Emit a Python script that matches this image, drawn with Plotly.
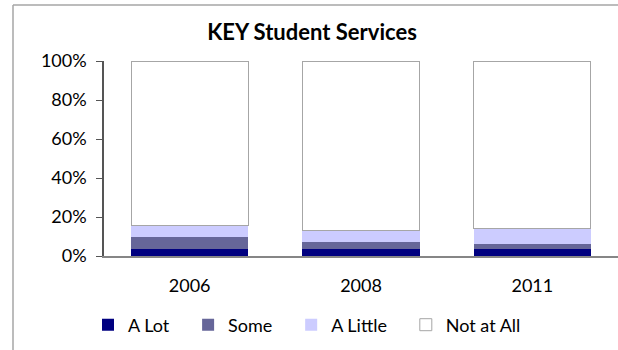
import plotly.graph_objects as go

# Survey responses per year, percent of respondents
years = ["2006", "2008", "2011"]
a_lot = [3.8, 3.8, 3.7]
some = [5.8, 3.4, 2.6]
a_little = [6.0, 5.9, 7.8]
not_at_all = [84.4, 86.9, 85.9]
y_ticks = [0, 20, 40, 60, 80, 100]
y_tick_labels = [f"{v}%" for v in y_ticks]

series = [
    ("A Lot", a_lot, "#000080", None),
    ("Some", some, "#666699", None),
    ("A Little", a_little, "#CCCCFF", None),
    ("Not at All", not_at_all, "#FFFFFF", "#A6A6A6"),
]

W, H = 618, 350
ML, MR, MT, MB = 104, 0, 61, 94
PW, PH = W - ML - MR, H - MT - MB

def px_x(v):
    return (v - ML) / PW

def px_y(v):
    return (H - MB - v) / PH

PAD = "\u00a0" * 3  # extra room between legend entries

fig = go.Figure()
for name, vals, color, edge in series:
    fig.add_trace(go.Bar(
        name=name + PAD, x=years, y=vals,
        marker=dict(color=color,
                    line=dict(color=edge or color, width=1 if edge else 0)),
    ))

font = "Lato, 'Open Sans', sans-serif"
fig.update_layout(
    width=W, height=H,
    margin=dict(l=ML, r=MR, t=MT, b=MB),
    barmode="stack", bargap=0.317,
    plot_bgcolor="white", paper_bgcolor="white",
    font=dict(family=font, size=18, color="#000000"),
    title=dict(text="<b>KEY Student Services</b>", x=312 / W, xanchor="center",
               y=1 - 32 / H, yanchor="middle", font=dict(size=22)),
    showlegend=True,
    legend=dict(orientation="h", x=px_x(88), xanchor="left",
                y=px_y(325), yanchor="middle", traceorder="normal",
                font=dict(size=18), itemclick=False),
    shapes=[
        dict(type="line", xref="paper", yref="paper",
             x0=px_x(13), x1=px_x(13), y0=px_y(5), y1=px_y(360),
             line=dict(color="#A6A6A6", width=1.5)),
        dict(type="line", xref="paper", yref="paper",
             x0=px_x(13), x1=px_x(640), y0=px_y(5), y1=px_y(5),
             line=dict(color="#A6A6A6", width=1.5)),
    ],
)
fig.update_xaxes(showline=True, linecolor="#868686", linewidth=1.5,
                 ticks="", showgrid=False, tickfont=dict(size=18),
                 ticklabelstandoff=13)
fig.update_yaxes(range=[0, 100], tickmode="array", tickvals=y_ticks,
                 ticktext=y_tick_labels, showline=True, linecolor="#555555",
                 linewidth=1.5, ticks="outside", ticklen=6,
                 tickcolor="#555555", showgrid=False, zeroline=False,
                 ticklabelstandoff=6, tickfont=dict(size=18))

fig.write_html("out.html")
